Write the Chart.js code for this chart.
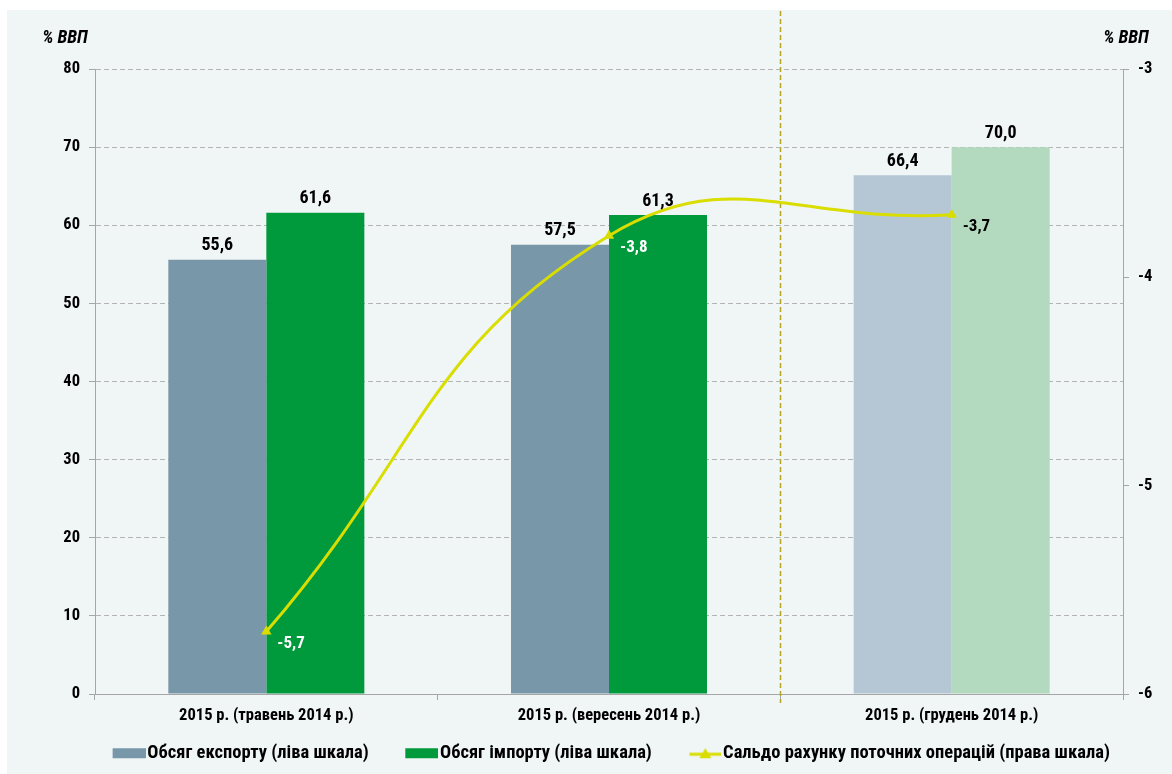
<!DOCTYPE html>
<html><head><meta charset="utf-8">
<script src="https://cdn.jsdelivr.net/npm/chart.js@4"></script>
<style>
html,body{margin:0;padding:0;background:#fff;}
#wrap{position:absolute;left:0;top:0;width:1172px;height:774px;overflow:hidden;}
#bg{position:absolute;left:7px;top:10px;right:0;bottom:0;background:#f0f5f5;}
canvas{position:absolute;left:0;top:0;}
</style></head>
<body><div id="wrap"><div id="bg"></div><canvas id="c" width="1172" height="774"></canvas></div>
<script>
const categories = ['2015 р. (травень 2014 р.)', '2015 р. (вересень 2014 р.)', '2015 р. (грудень 2014 р.)'];
const exportValues = [55.6, 57.5, 66.4];
const importValues = [61.6, 61.3, 70.0];
const balanceValues = [-5.7, -3.8, -3.7];
const seriesNames = ['Обсяг експорту (ліва шкала)', 'Обсяг імпорту (ліва шкала)', 'Сальдо рахунку поточних операцій (права шкала)'];
const leftAxisRange = [0, 80, 10];
const rightAxisRange = [-6, -3, 1];
const axisTitle = '% ВВП';

const FONT = "'Roboto Condensed', 'Open Sans Condensed', 'Liberation Sans', Arial, sans-serif";
const exportColors = ['#7897a9', '#7897a9', '#b5c7d4'];
const importColors = ['#009a3c', '#009a3c', '#b3d9be'];
const lineColor = '#d9dd00';
const balanceLabelColors = ['#ffffff', '#ffffff', '#000000'];
const fmt = v => v.toFixed(1).replace('.', ',');

const LEG_FS = 18.5, LEG_PW = 44;
const IMG_W = Math.round(2 * (LEG_PW + LEG_FS / 2 - 2 - LEG_PW / 2));
function swatch(color) {
  const c = document.createElement('canvas'); c.width = IMG_W; c.height = 12;
  const x = c.getContext('2d'); x.fillStyle = color; x.fillRect(IMG_W - 33, 1, 33, 10); return c;
}
function lineSwatch(color) {
  const c = document.createElement('canvas'); c.width = IMG_W; c.height = 12;
  const x = c.getContext('2d'); const x0 = IMG_W - 32;
  x.strokeStyle = color; x.lineWidth = 3;
  x.beginPath(); x.moveTo(x0, 7); x.lineTo(IMG_W, 7); x.stroke();
  x.fillStyle = color; x.beginPath(); x.moveTo(x0 + 16, 1); x.lineTo(x0 + 22, 11); x.lineTo(x0 + 10, 11); x.closePath(); x.fill();
  return c;
}
const legendImgs = [swatch(exportColors[0]), swatch(importColors[0]), lineSwatch(lineColor)];

const annotPlugin = {
  id: 'annot',
  beforeDatasetsDraw(chart) {
    const ctx = chart.ctx, xs = chart.scales.x;
    const px = Math.round(xs.getPixelForValue(1.5)) + 0.5;
    ctx.save();
    ctx.strokeStyle = '#b5a52a'; ctx.lineWidth = 1.5; ctx.setLineDash([5, 3]);
    ctx.beginPath(); ctx.moveTo(px, 11); ctx.lineTo(px, chart.chartArea.bottom + 9); ctx.stroke();
    ctx.restore();
  },
  afterDatasetsDraw(chart) {
    const ctx = chart.ctx;
    ctx.save();
    ctx.font = 'bold 18px ' + FONT;
    ctx.fillStyle = '#000'; ctx.textAlign = 'center'; ctx.textBaseline = 'bottom';
    [0, 1].forEach(di => {
      const meta = chart.getDatasetMeta(di);
      meta.data.forEach((el, i) => {
        ctx.fillText(fmt(chart.data.datasets[di].data[i]), el.x, el.y - 5);
      });
    });
    const lm = chart.getDatasetMeta(2);
    ctx.font = 'bold 17px ' + FONT;
    ctx.textAlign = 'left'; ctx.textBaseline = 'middle';
    lm.data.forEach((el, i) => {
      ctx.fillStyle = balanceLabelColors[i];
      ctx.fillText(fmt(balanceValues[i]), el.x + 11, el.y + 12);
    });
    ctx.restore();
  },
  afterDraw(chart) {
    const ctx = chart.ctx;
    ctx.save();
    ctx.font = 'italic bold 18px ' + FONT;
    ctx.fillStyle = '#000'; ctx.textBaseline = 'middle'; ctx.textAlign = 'center';
    ctx.fillText(axisTitle, 65, 38);
    ctx.fillText(axisTitle, 1126, 38);
    ctx.restore();
  }
};

new Chart(document.getElementById('c'), {
  data: {
    labels: categories,
    datasets: [
      { type: 'bar', label: seriesNames[0], data: exportValues, backgroundColor: exportColors, yAxisID: 'y',
        categoryPercentage: 0.572, barPercentage: 1.0, borderWidth: 0, order: 1 },
      { type: 'bar', label: seriesNames[1], data: importValues, backgroundColor: importColors, yAxisID: 'y',
        categoryPercentage: 0.572, barPercentage: 1.0, borderWidth: 0, order: 1 },
      { type: 'line', label: seriesNames[2], data: balanceValues, yAxisID: 'y1', borderColor: lineColor, borderWidth: 3,
        pointStyle: 'triangle', pointRadius: 6, pointBackgroundColor: lineColor, pointBorderColor: lineColor, pointBorderWidth: 0,
        tension: 0.45, fill: false, order: -1 }
    ]
  },
  options: {
    responsive: false, animation: false, devicePixelRatio: 1,
    layout: { padding: { left: 32, right: 0, top: 69, bottom: 1.5 } },
    scales: {
      x: {
        type: 'category', offset: true,
        grid: { offset: true, drawOnChartArea: false, drawTicks: true, tickLength: 6, color: '#a6a6a6' },
        border: { color: '#a6a6a6' },
        ticks: { font: { family: FONT, size: 16.5, weight: 'bold' }, color: '#000', padding: 6, maxRotation: 0 },
        afterFit: s => { s.height = 32; }
      },
      y: {
        position: 'left', min: leftAxisRange[0], max: leftAxisRange[1],
        ticks: { stepSize: leftAxisRange[2], font: { family: FONT, size: 16.5, weight: 'bold' }, color: '#000', padding: 9 },
        grid: { color: '#b4b4b4', drawTicks: true, tickLength: 6, tickColor: '#a6a6a6', tickBorderDash: [] },
        border: { color: '#a6a6a6', dash: [5, 3] },
        afterFit: s => { s.width = 63; }
      },
      y1: {
        position: 'right', min: rightAxisRange[0], max: rightAxisRange[1],
        ticks: { stepSize: rightAxisRange[2], font: { family: FONT, size: 16.5, weight: 'bold' }, color: '#000', padding: 9,
          callback: v => String(v) },
        grid: { drawOnChartArea: false, drawTicks: true, tickLength: 6, color: '#a6a6a6' },
        border: { color: '#a6a6a6' },
        afterFit: s => { s.width = 49; }
      }
    },
    plugins: {
      tooltip: { enabled: false },
      legend: {
        position: 'bottom',
        labels: {
          usePointStyle: true, pointStyleWidth: LEG_PW, padding: 18,
          font: { family: FONT, size: LEG_FS, weight: 'bold' }, color: '#000',
          generateLabels: chart => chart.data.datasets.map((ds, i) => ({
            text: ds.label, pointStyle: legendImgs[i], datasetIndex: i, hidden: false,
            fillStyle: 'transparent', strokeStyle: 'transparent', lineWidth: 0, fontColor: '#000'
          }))
        }
      }
    }
  },
  plugins: [annotPlugin]
});
</script>
</body></html>
